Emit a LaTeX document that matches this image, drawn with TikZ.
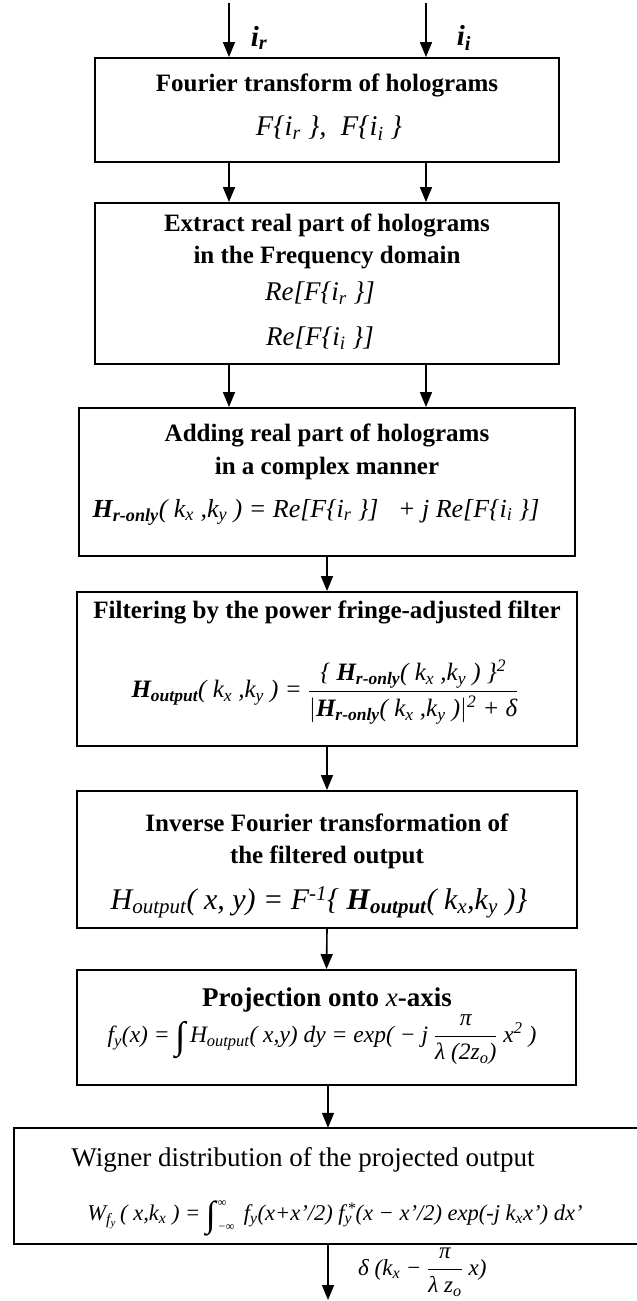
\documentclass[tikz,border=0pt]{standalone}
\usepackage{fontspec}
\setmainfont{Liberation Serif}
\usetikzlibrary{arrows.meta}
\newcommand\sbx[1]{\textsubscript{#1}}
\newcommand\spx[1]{\textsuperscript{#1}}
\newcommand\tallint[1]{\raisebox{-0.24em}{\fontsize{#1}{#1}\selectfont\itshape ∫}}
\begin{document}
\begin{tikzpicture}[x=1pt,y=-1pt,
  boxline/.style={line width=1.9pt},
  box/.style={draw,boxline,rectangle,inner sep=0pt},
  arr/.style={line width=1.6pt,-{Triangle[length=15pt,width=12pt]}},
  ttl/.style={font=\fontsize{25}{30}\selectfont\bfseries,inner sep=0pt},
  ttlr/.style={font=\fontsize{27}{32}\selectfont,inner sep=0pt},
  frm/.style={font=\fontsize{25}{30}\selectfont\itshape,inner sep=0pt},
  frmb/.style={font=\fontsize{30}{36}\selectfont\itshape,inner sep=0pt},
  inlab/.style={font=\fontsize{29}{32}\selectfont\bfseries\itshape,inner sep=0pt},
]
\useasboundingbox (0,0) rectangle (637,1301);

% boxes
\node[box,minimum width=464pt,minimum height=104pt] (b1) at (327,110) {};
\node[box,minimum width=464pt,minimum height=161pt] (b2) at (327,283.5) {};
\node[box,minimum width=496pt,minimum height=148pt] (b3) at (327,482) {};
\node[box,minimum width=500pt,minimum height=154pt] (b4) at (327,669) {};
\node[box,minimum width=500pt,minimum height=137pt] (b5) at (327,859.5) {};
\node[box,minimum width=499pt,minimum height=115pt] (b6) at (326.5,1027.5) {};
\node[draw=none,inner sep=0pt,minimum width=623pt,minimum height=116pt] (b7) at (325.5,1186) {};
\draw[boxline] (b7.north east) -- (b7.north west) -- (b7.south west) -- (b7.south east);

% input labels
\node[inlab] (lr) at (259,38) {i\sbx{r}};
\node[inlab] (li) at (464,38) {i\sbx{i}};

% box 1
\node[ttl] (t1) at (327,85) {Fourier transform of holograms};
\node[frm,font=\fontsize{28.5}{32}\selectfont\itshape] (f1) at (329,128) {F\{i\sbx{r} \}, \ F\{i\sbx{i} \}};

% box 2
\node[ttl] (t2a) at (327,225) {Extract real part of holograms};
\node[ttl] (t2b) at (327,258) {in the Frequency domain};
\node[frm,font=\fontsize{27}{30}\selectfont\itshape] (f2a) at (320,293) {Re[F\{i\sbx{r} \}]};
\node[frm,font=\fontsize{27}{30}\selectfont\itshape] (f2b) at (320,338) {Re[F\{i\sbx{i} \}]};

% box 3
\node[ttl] (t3a) at (327,435) {Adding real part of holograms};
\node[ttl] (t3b) at (327,468) {in a complex manner};
\node[frm,font=\fontsize{26}{30}\selectfont\itshape] (f3) at (316,512) {\textbf{H}\sbx{\textbf{r-only}}( k\sbx{x} ,k\sbx{y} ) = Re[F\{i\sbx{r} \}] \ \ + j Re[F\{i\sbx{i} \}]};

% box 4
\node[ttl] (t4) at (327,612) {Filtering by the power fringe-adjusted filter};
\node[frm] (f4) at (325,692) {\textbf{H}\sbx{\textbf{output}}( k\sbx{x} ,k\sbx{y} ) = $\displaystyle\frac{\mbox{\{ \textbf{H}\sbx{\textbf{r-only}}( k\sbx{x} ,k\sbx{y} ) \}\spx{2}\rule[-5pt]{0pt}{5pt}}}{\mbox{\rule{0pt}{24pt}$\left|\mbox{\textbf{H}\sbx{\textbf{r-only}}( k\sbx{x} ,k\sbx{y} )}\right|$\spx{2} + δ}}$};

% box 5
\node[ttl] (t5a) at (327,823) {Inverse Fourier transformation of};
\node[ttl] (t5b) at (327,857) {the filtered output};
\node[frmb] (f5) at (319,902) {H\sbx{output}( x, y) = F\spx{-1}\{ \textbf{H}\sbx{\textbf{output}}( k\sbx{x},k\sbx{y} )\}};

% box 6
\node[ttl,font=\fontsize{27}{32}\selectfont\bfseries] (t6) at (327,1000) {Projection onto \textit{\mdseries x}-axis};
\node[frm,font=\fontsize{23.5}{28}\selectfont\itshape] (f6) at (322,1040) {f\sbx{y}(x) = \tallint{38}\,H\sbx{output}( x,y) dy = exp( − j $\displaystyle\frac{\mbox{π}}{\mbox{λ (2z\sbx{o})}}$ x\spx{2} )};

% box 7
\node[ttlr] (t7) at (303,1160) {Wigner distribution of the projected output};
\node[frm,font=\fontsize{22.5}{26}\selectfont\itshape] (f7) at (335,1218) {W\sbx{f\sbx{y}}\,( x,k\sbx{x} ) = \tallint{36}\hspace{2pt}\makebox[0pt][l]{\raisebox{14pt}{\fontsize{12}{12}\selectfont ∞}}\raisebox{-10pt}{\fontsize{12}{12}\selectfont −∞}\, f\sbx{y}(x+x'/2) f\rlap{\sbx{y}}\spx{\,*}(x − x'/2) exp(-j k\sbx{x}x') dx'};

% output label
\node[frm,font=\fontsize{23}{26}\selectfont\itshape,anchor=west] (lo) at (358,1272) {δ (k\sbx{x} − $\displaystyle\frac{\mbox{π}}{\mbox{λ z\sbx{o}}}$ x)};

% connectors
\coordinate (cl) at (229,3);
\coordinate (cr) at (426,3);
\coordinate (out) at (328,1300);
\draw[arr] (cl) -- (b1.north -| cl);
\draw[arr] (cr) -- (b1.north -| cr);
\draw[arr] (b1.south -| cl) -- (b2.north -| cl);
\draw[arr] (b1.south -| cr) -- (b2.north -| cr);
\draw[arr] (b2.south -| cl) -- (b3.north -| cl);
\draw[arr] (b2.south -| cr) -- (b3.north -| cr);
\draw[arr] (b3.south) -- (b4.north);
\draw[arr] (b4.south) -- (b5.north);
\draw[arr] (b5.south) -- (b6.north);
\draw[arr] (b6.south -| out) -- (b7.north -| out);
\draw[arr] (b7.south -| out) -- (out);
\end{tikzpicture}
\end{document}
